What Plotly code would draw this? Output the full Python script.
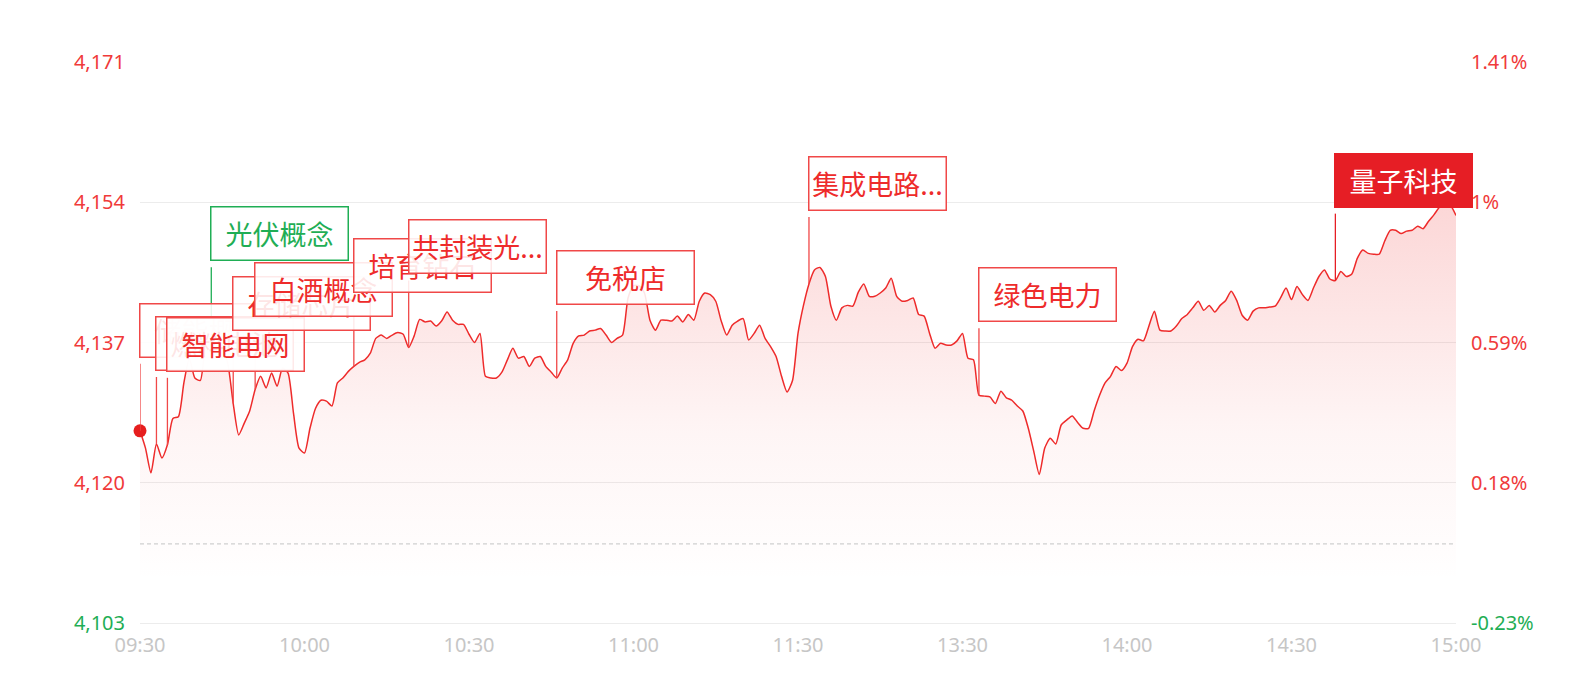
import plotly.graph_objects as go

# intraday index level, one value per minute 09:30-11:30, 13:00-15:00
price = [
    4126.3, 4124.2, 4121.2, 4124.7, 4123.0, 4124.6, 4127.8, 4128.0, 4132.1, 4135.1,
    4132.7, 4132.4, 4136.9, 4138.0, 4137.5, 4136.3, 4134.5, 4129.6, 4125.8, 4127.2,
    4128.7, 4131.3, 4132.9, 4131.5, 4133.3, 4131.7, 4133.9, 4133.3, 4128.4, 4124.2,
    4123.6, 4126.6, 4129.0, 4130.0, 4129.9, 4129.3, 4132.1, 4132.7, 4133.5, 4134.1,
    4134.6, 4134.9, 4135.7, 4137.5, 4137.9, 4137.5, 4137.9, 4138.2, 4138.0, 4136.4,
    4137.8, 4139.8, 4139.5, 4139.6, 4139.0, 4139.6, 4140.7, 4139.7, 4139.2, 4139.2,
    4138.0, 4137.0, 4138.1, 4132.9, 4132.7, 4132.7, 4133.4, 4134.9, 4136.3, 4135.1,
    4135.3, 4134.1, 4135.1, 4135.3, 4134.1, 4133.4, 4132.7, 4133.9, 4134.9, 4136.9,
    4137.8, 4137.9, 4138.4, 4138.5, 4138.7, 4137.9, 4137.0, 4137.5, 4137.9, 4142.4,
    4143.9, 4143.9, 4143.0, 4139.7, 4138.5, 4139.7, 4139.7, 4139.6, 4140.2, 4139.5,
    4140.4, 4139.7, 4142.0, 4143.0, 4142.8, 4142.0, 4139.6, 4137.9, 4139.1, 4139.6,
    4139.9, 4137.3, 4138.1, 4139.1, 4137.5, 4136.5, 4135.3, 4132.9, 4131.0, 4132.4,
    4138.1, 4141.5, 4144.1, 4145.8, 4146.1, 4145.0, 4141.4, 4139.7, 4141.2, 4141.5,
    4141.4, 4143.1, 4144.1, 4142.6, 4142.6, 4143.0, 4143.6, 4144.8, 4142.6, 4142.0,
    4142.1, 4142.4, 4140.4, 4140.2, 4138.1, 4136.3, 4136.9, 4136.7, 4136.7, 4137.2,
    4138.1, 4135.1, 4134.9, 4130.6, 4130.5, 4130.4, 4129.6, 4131.1, 4130.3, 4130.0,
    4129.3, 4128.7, 4126.6, 4123.8, 4121.0, 4124.2, 4125.4, 4124.7, 4127.0, 4127.6,
    4128.1, 4127.3, 4126.6, 4126.6, 4128.7, 4130.6, 4132.1, 4132.9, 4134.1, 4133.6,
    4134.5, 4136.5, 4137.4, 4137.2, 4139.0, 4140.8, 4138.5, 4138.4, 4138.4, 4139.0,
    4139.9, 4140.4, 4141.2, 4142.0, 4140.9, 4141.5, 4140.7, 4141.5, 4142.1, 4143.2,
    4142.1, 4140.3, 4139.7, 4140.8, 4141.2, 4141.2, 4141.3, 4141.4, 4142.4, 4143.6,
    4142.2, 4143.8, 4142.8, 4142.1, 4143.6, 4145.0, 4145.8, 4144.7, 4144.5, 4145.6,
    4145.0, 4145.3, 4147.2, 4148.2, 4147.8, 4147.7, 4147.7, 4149.3, 4150.6, 4150.6,
    4150.2, 4150.5, 4150.6, 4151.1, 4150.8, 4151.7, 4152.5, 4153.4, 4153.7, 4153.6,
    4152.4,
]
prev_close = 4112.6

time_pos = [0, 30, 60, 90, 120, 150, 180, 210, 240]
time_text = ['09:30', '10:00', '10:30', '11:00', '11:30', '13:30', '14:00', '14:30', '15:00']
level_ticks = [4103, 4120, 4137, 4154, 4171]
level_text = ['4,103', '4,120', '4,137', '4,154', '4,171']
pct_text = ['-0.23%', '0.18%', '0.59%', '1%', '1.41%']

# hot-sector tags: name, minute index, kind
tag_names = ['储能概念', '燃料电池', '智能电网', '光伏概念', '存储芯片', '白酒概念',
             '培育钻石', '共封装光...', '免税店', '集成电路...', '绿色电力', '量子科技']
tag_minutes = [0, 3, 5, 13, 17, 21, 39, 49, 76, 122, 153, 218]
tag_kinds = ['up', 'up', 'up', 'down', 'up', 'up', 'up', 'up', 'up', 'up', 'up', 'lead']

RED = '#ee2b2b'
GREEN = '#1fae55'
font_cjk = 'Noto Sans CJK SC'

x = list(range(len(price)))

fig = go.Figure()
fig.add_trace(go.Scatter(x=x, y=price, mode='lines', line=dict(color=RED, width=1.5, shape='spline', smoothing=0.6),
                         fill='tozeroy',
                         fillgradient=dict(type='vertical', start=4108, stop=level_ticks[-1],
                                           colorscale=[[0, 'rgba(238,43,43,0)'], [0.3, 'rgba(238,43,43,0.05)'],
                                                       [1, 'rgba(238,43,43,0.28)']]),
                         hoverinfo='skip', showlegend=False))
fig.add_trace(go.Scatter(x=[x[0], x[-1]], y=[prev_close, prev_close], mode='lines', yaxis='y2',
                         line=dict(color='#d0d0d0', width=1.2, dash='4px,3px'),
                         hoverinfo='skip', showlegend=False))
fig.add_trace(go.Scatter(x=[x[0]], y=[price[0]], mode='markers', marker=dict(color='#e61e1e', size=13),
                         cliponaxis=False, hoverinfo='skip', showlegend=False))

for name, m, kind in zip(tag_names, tag_minutes, tag_kinds):
    v = price[m]
    if kind == 'down':
        edge, txt, bg = GREEN, GREEN, 'rgba(255,255,255,0.88)'
    elif kind == 'lead':
        edge, txt, bg = '#e61e25', 'white', '#e61e25'
    else:
        edge, txt, bg = '#f04848', RED, 'rgba(255,255,255,0.88)'
    # connector from the point up to the tag
    fig.add_shape(type='line', xref='x', yref='y', xsizemode='pixel', ysizemode='pixel',
                  xanchor=m, yanchor=v, x0=0, x1=0, y0=0, y1=67,
                  line=dict(color=edge, width=1.3))
    fig.add_annotation(x=m, y=v, xref='x', yref='y', text=name, showarrow=False,
                       xanchor='left', yanchor='bottom', xshift=-1, yshift=73,
                       width=136, height=52, borderpad=0, borderwidth=1.5,
                       bordercolor=edge, bgcolor=bg, align='center', valign='middle',
                       font=dict(family=font_cjk, size=27, color=txt))

left_text = [('<span style="color:%s">%s</span>' % (GREEN, t)) if v < prev_close else t
             for v, t in zip(level_ticks, level_text)]
right_text = [('<span style="color:%s">%s</span>' % (GREEN, t)) if v < prev_close else t
              for v, t in zip(level_ticks, pct_text)]

fig.update_layout(width=1594, height=676, margin=dict(l=132, r=146, t=54, b=61),
                  paper_bgcolor='white', plot_bgcolor='white',
                  font=dict(family='Noto Sans, ' + font_cjk, size=20),
                  showlegend=False,
                  xaxis=dict(range=[0, 240], tickvals=time_pos, ticktext=time_text,
                             tickfont=dict(color='#c6c6c6', size=20), showgrid=False, zeroline=False,
                             showline=True, linecolor='#ececec', linewidth=1, ticks='', ticklabelstandoff=4),
                  yaxis=dict(range=[level_ticks[0], level_ticks[-1]], tickvals=level_ticks, ticktext=left_text,
                             tickfont=dict(color='#f03a3a', size=20), showgrid=True, gridcolor='#ececec',
                             gridwidth=1, zeroline=False, ticks='', ticklabelstandoff=14),
                  yaxis2=dict(range=[level_ticks[0], level_ticks[-1]], overlaying='y', side='right',
                              tickvals=level_ticks, ticktext=right_text,
                              tickfont=dict(color='#f03a3a', size=20), showgrid=False, zeroline=False,
                              ticks='', ticklabelstandoff=14))

fig.write_html("out.html")
